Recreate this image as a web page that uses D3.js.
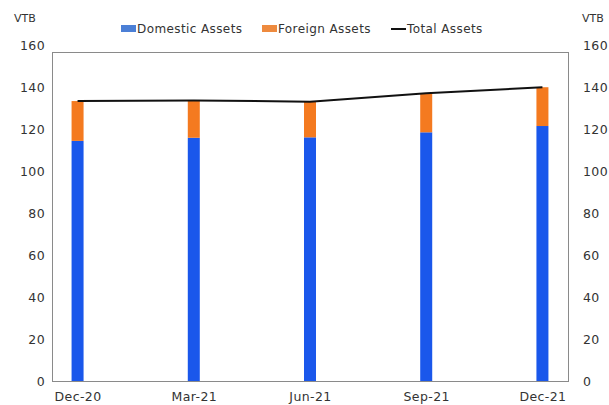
<!DOCTYPE html>
<html>
<head>
<meta charset="utf-8">
<script src="https://cdn.jsdelivr.net/npm/d3@7"></script>
<style>
  html, body { margin: 0; padding: 0; background: #fff; }
  svg { display: block; }
  text { font-family: "DejaVu Sans", "Open Sans", sans-serif; fill: #333; }
</style>
</head>
<body>
<svg id="chart" width="609" height="405"></svg>
<script>
// Quarterly asset breakdown, VTB
const quarters = ["Dec-20", "Mar-21", "Jun-21", "Sep-21", "Dec-21"];
const domesticAssets = [114.5, 116.0, 116.2, 118.6, 121.6];
const foreignAssets = [19.0, 17.8, 17.0, 18.6, 18.5];
const totalAssets = [133.5, 133.8, 133.2, 137.2, 140.1];
const yTicks = [0, 20, 40, 60, 80, 100, 120, 140, 160];

const colors = { domestic: "#1a57eb", foreign: "#f47a20", total: "#111" };

const svg = d3.select("#chart");
const frame = { left: 52, right: 568, top: 52, bottom: 381 };

const x = d3.scalePoint().domain(quarters).range([frame.left, frame.right]).padding(0.22);
const y = d3.scaleLinear().domain([0, 160]).range([381, 45.5]);

// plot frame
svg.append("rect")
  .attr("x", frame.left + 0.5).attr("y", frame.top + 0.5)
  .attr("width", frame.right - frame.left).attr("height", frame.bottom - frame.top)
  .attr("fill", "none").attr("stroke", "#8a8a8a").attr("stroke-width", 1);

const tickFont = "12.5px";
const styleTicks = g => g.selectAll("text")
  .style("font-size", tickFont).style("font-family", "DejaVu Sans")
  .style("letter-spacing", "0.4px").attr("fill", "#3a3a3a");

// left and right value axes (labels only)
const leftAxis = d3.axisLeft(y).tickValues(yTicks).tickSize(0).tickPadding(7);
const gl = svg.append("g").attr("transform", `translate(${frame.left},0)`).call(leftAxis);
gl.select(".domain").remove();
styleTicks(gl);

const rightAxis = d3.axisRight(y).tickValues(yTicks).tickSize(0).tickPadding(15);
const gr = svg.append("g").attr("transform", `translate(${frame.right},0)`).call(rightAxis);
gr.select(".domain").remove();
styleTicks(gr);

svg.append("text").attr("x", 14).attr("y", 22).style("font-size", "11px").text("VTB");
svg.append("text").attr("x", 582).attr("y", 22).style("font-size", "11px").text("VTB");

// category axis labels
const bottomAxis = d3.axisBottom(x).tickSize(0).tickPadding(11);
const gb = svg.append("g").attr("transform", `translate(0,${frame.bottom})`).call(bottomAxis);
gb.select(".domain").remove();
styleTicks(gb);

// stacked bars
const barW = 12;
const rows = quarters.map((q, i) => ({ q, d: domesticAssets[i], f: foreignAssets[i] }));
const bars = svg.append("g");
bars.selectAll("rect.dom").data(rows).join("rect")
  .attr("class", "dom")
  .attr("x", r => x(r.q) - barW / 2).attr("width", barW)
  .attr("y", r => y(r.d)).attr("height", r => y(0) - y(r.d))
  .attr("fill", colors.domestic);
bars.selectAll("rect.for").data(rows).join("rect")
  .attr("class", "for")
  .attr("x", r => x(r.q) - barW / 2).attr("width", barW)
  .attr("y", r => y(r.d + r.f)).attr("height", r => y(r.d) - y(r.d + r.f))
  .attr("fill", colors.foreign);

// total assets line
const line = d3.line().x((d, i) => x(quarters[i])).y(d => y(d));
svg.append("path").datum(totalAssets)
  .attr("d", line).attr("fill", "none")
  .attr("stroke", colors.total).attr("stroke-width", 2);

// legend
const legend = svg.append("g").attr("transform", "translate(0,29)");
const items = [
  { label: "Domestic Assets", color: "#4b7fd6", type: "box", x: 121 },
  { label: "Foreign Assets", color: "#ee8a3e", type: "box", x: 262 },
  { label: "Total Assets", color: "#111", type: "line", x: 391 }
];
items.forEach(it => {
  if (it.type === "box") {
    legend.append("rect").attr("x", it.x).attr("y", -4).attr("width", 15).attr("height", 7).attr("fill", it.color);
  } else {
    legend.append("line").attr("x1", it.x).attr("x2", it.x + 15).attr("y1", 0).attr("y2", 0)
      .attr("stroke", it.color).attr("stroke-width", 2);
  }
  legend.append("text").attr("x", it.x + 16).attr("y", 4)
    .style("font-size", "12px").style("letter-spacing", "0.4px").text(it.label);
});
</script>
</body>
</html>
